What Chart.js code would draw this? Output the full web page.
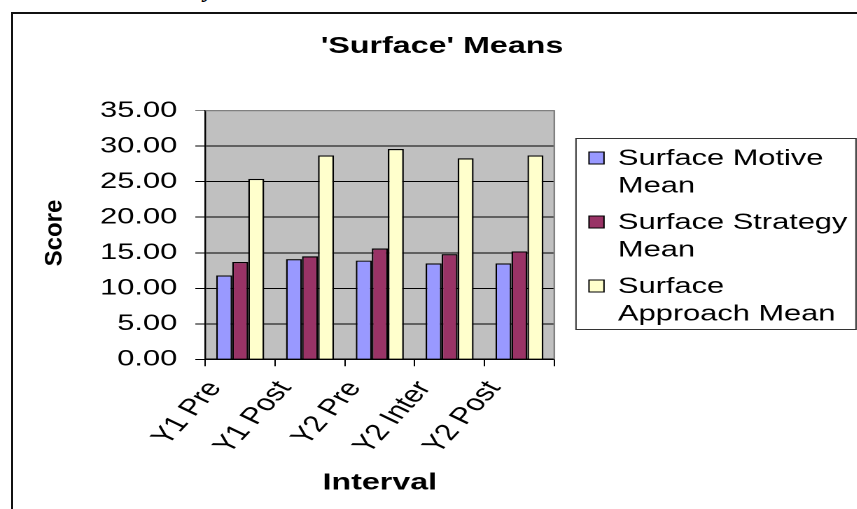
<!DOCTYPE html>
<html><head><meta charset="utf-8">
<script src="https://cdn.jsdelivr.net/npm/chart.js@4/dist/chart.umd.min.js"></script>
<style>
html,body{margin:0;padding:0;background:#fff;width:857px;height:509px;overflow:hidden;position:relative;}
#frag{position:absolute;left:204px;top:-23px;font:italic bold 24px 'Liberation Serif',serif;line-height:24px;color:#000;}
#frame{position:absolute;left:11px;top:12px;width:900px;height:600px;border-left:2px solid #111;border-top:2px solid #111;}
#wrap{position:absolute;left:0;top:0;width:612px;height:509px;transform:scaleX(1.4);transform-origin:0 0;}
</style></head><body>
<div id="frag">y</div>
<div id="frame"></div>
<div id="wrap"><canvas id="c" width="612" height="509"></canvas></div>
<script>
const STRETCH = 1.4;
const categories = ['Y1 Pre', 'Y1 Post', 'Y2 Pre', 'Y2 Inter', 'Y2 Post'];
const motiveMean = [11.8, 14.1, 13.9, 13.5, 13.5];
const strategyMean = [13.7, 14.5, 15.6, 14.8, 15.2];
const approachMean = [25.4, 28.7, 29.6, 28.3, 28.7];
const seriesNames = ['Surface Motive Mean', 'Surface Strategy Mean', 'Surface Approach Mean'];
const legendLines = [['Surface Motive', 'Mean'], ['Surface Strategy', 'Mean'], ['Surface', 'Approach Mean']];
const seriesColors = ['#9999FF', '#993366', '#FFFFCC'];
const yTickValues = [0, 5, 10, 15, 20, 25, 30, 35];
const chartTitle = "'Surface' Means";
const xTitle = 'Interval';
const yTitle = 'Score';

const px = v => v / STRETCH;
const FONT = "'Liberation Sans', Arial, sans-serif";
Chart.defaults.font.family = FONT;
Chart.defaults.color = '#000';

const plotBg = {
  id: 'plotBg',
  beforeDraw(chart) {
    const {ctx, chartArea: a} = chart;
    ctx.save();
    ctx.fillStyle = '#C0C0C0';
    ctx.fillRect(a.left, a.top, a.right - a.left, a.bottom - a.top);
    ctx.restore();
  },
  beforeDatasetsDraw(chart) {
    const {ctx, chartArea: a} = chart;
    ctx.save();
    ctx.strokeStyle = '#808080';
    ctx.lineWidth = 1.2;
    ctx.beginPath();
    ctx.moveTo(a.left, a.top); ctx.lineTo(a.right, a.top); ctx.lineTo(a.right, a.bottom);
    ctx.stroke();
    ctx.restore();
  }
};

const texts = {
  id: 'texts',
  afterDraw(chart) {
    const ctx = chart.ctx;
    ctx.save();
    ctx.fillStyle = '#000';
    ctx.font = 'bold 23px ' + FONT;
    ctx.textAlign = 'center';
    ctx.textBaseline = 'alphabetic';
    ctx.fillText(chartTitle, px(442), 53);
    // y axis title
    ctx.save();
    ctx.translate(px(55), (chart.chartArea.top + chart.chartArea.bottom) / 2 - 2);
    ctx.scale(1 / STRETCH, 1);
    ctx.rotate(-Math.PI / 2);
    ctx.font = 'bold 24px ' + FONT;
    ctx.textBaseline = 'middle';
    ctx.fillText(yTitle, 0, 0);
    ctx.restore();
    // legend
    const boxL = px(576), boxT = 138.5, boxR = px(856), boxB = 329.5;
    ctx.strokeStyle = '#333';
    ctx.lineWidth = 1;
    ctx.strokeRect(boxL, boxT, boxR - boxL, boxB - boxT);
    ctx.font = '22px ' + FONT;
    ctx.textAlign = 'left';
    chart.data.datasets.forEach((ds, i) => {
      const base = 165 + i * 64;
      ctx.fillStyle = ds.backgroundColor;
      ctx.fillRect(px(589), base - 13, px(15), 12);
      ctx.strokeStyle = '#000';
      ctx.lineWidth = 1;
      ctx.strokeRect(px(589), base - 13, px(15), 12);
      ctx.fillStyle = '#000';
      legendLines[i].forEach((line, j) => ctx.fillText(line, px(618), base + j * 27.5));
    });
    ctx.restore();
  }
};

new Chart(document.getElementById('c'), {
  type: 'bar',
  data: {
    labels: categories,
    datasets: [
      {label: seriesNames[0], data: motiveMean, backgroundColor: seriesColors[0]},
      {label: seriesNames[1], data: strategyMean, backgroundColor: seriesColors[1]},
      {label: seriesNames[2], data: approachMean, backgroundColor: seriesColors[2]}
    ].map(d => Object.assign(d, {borderColor: '#000', borderWidth: 1.2, barPercentage: 1, categoryPercentage: 0.688}))
  },
  options: {
    responsive: false,
    animation: false,
    devicePixelRatio: 2,
    layout: {padding: {left: 0, top: 110.7, right: 612 - px(554.3), bottom: 0}},
    plugins: {legend: {display: false}, title: {display: false}, tooltip: {enabled: false}},
    scales: {
      x: {
        grid: {display: true, offset: true, drawOnChartArea: false, drawTicks: true, tickLength: 7, color: '#000', lineWidth: 1},
        border: {display: true, color: '#000', width: 1.2},
        ticks: {autoSkip: false, minRotation: 56, maxRotation: 56, labelOffset: -18, padding: 10, font: {size: 23}, color: '#000'},
        title: {display: true, text: xTitle, font: {size: 23, weight: 'bold'}, color: '#000', padding: {top: 0, bottom: 12}},
        afterFit(scale) { scale.height = 509 - 359.3; }
      },
      y: {
        min: 0, max: 35,
        afterBuildTicks(scale) { scale.ticks = yTickValues.map(v => ({value: v})); },
        grid: {color: c => (c.tick && c.tick.value === 35 ? '#808080' : '#000'), lineWidth: 1, tickLength: px(10), drawTicks: true},
        border: {display: true, color: '#000', width: 1.2},
        ticks: {callback: v => Number(v).toFixed(2), font: {size: 22}, color: '#000', padding: 12.9},
        afterFit(scale) { scale.width = px(205.3); }
      }
    }
  },
  plugins: [plotBg, texts]
});
</script>
</body></html>
